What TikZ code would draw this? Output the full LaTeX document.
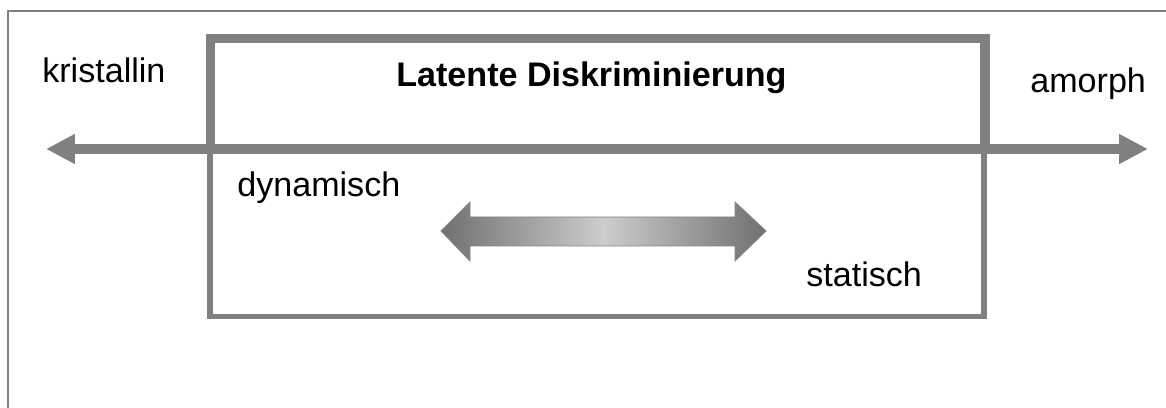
\documentclass[tikz,border=0pt]{standalone}
\usepackage{fontspec}
\setmainfont{Liberation Sans}
\usetikzlibrary{arrows.meta}

\begin{document}
\begin{tikzpicture}[x=0.02cm, y=-0.02cm,
        label/.style={anchor=base west, inner sep=0pt, font=\fontsize{19.4}{23}\selectfont},
        frame/.style={draw=black!50, line width=1.1pt},
        rahmen/.style={draw=black!50, line width=5.4pt, line join=miter},
        kasten/.style={draw=black!50, line width=3.4pt, line join=miter},
        achse/.style={draw=black!50, line width=5.7pt, {Triangle[length=16.5pt,width=16pt]}-{Triangle[length=16.5pt,width=16pt]}}]
            \useasboundingbox (0,0) rectangle (1166,408);
            \fill[white] (0,0) rectangle (1166,408);
            \draw[frame] (8,408) |- (1166,11);

            % Beschriftungen
            \node[label] (kristallin) at (42,83) {kristallin};
            \node[label] (amorph) at (1030,93) {amorph};
            \node[label, font=\fontsize{19.4}{23}\selectfont\bfseries] (latent) at (396,87) {Latente Diskriminierung};
            \node[label] (dynamisch) at (237,197) {dynamisch};
            \node[label] (statisch) at (806,287) {statisch};

            % Kasten und Achse
            \coordinate (links) at (46,149);
            \coordinate (rechts) at (1148,149);
            \draw[kasten] (210,149) |- (984,316.5) -- (984,149);
            \draw[rahmen] (210.5,149) |- (985,38.5) -- (985,149);
            \draw[achse] (links) -- (rechts);

            % Doppelpfeil mit Verlauf
            \shade[left color=black!56, right color=black!56, middle color=black!20, draw=black!48, line width=0.5pt]
            (441,231) -- (470,202) -- (470,217) -- (735,217) -- (735,202) -- (766,231)
            -- (735,261) -- (735,246) -- (470,246) -- (470,261) -- cycle;
        \end{tikzpicture}
\end{document}
